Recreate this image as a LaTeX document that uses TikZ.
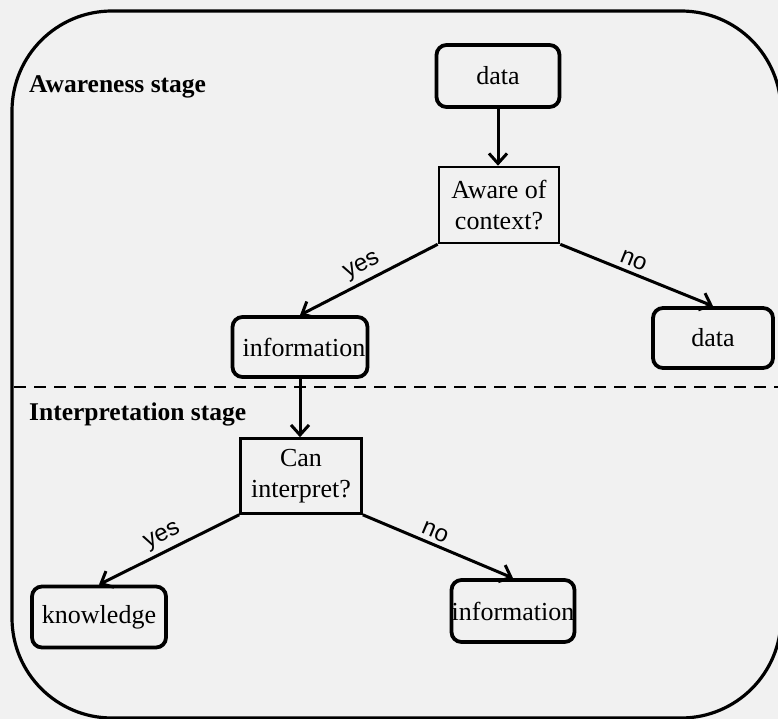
\documentclass[tikz,border=0pt]{standalone}
\usepackage{fontspec}
\setmainfont{Liberation Serif}
\newfontfamily\labelfont{Liberation Sans}
\usetikzlibrary{arrows.meta}

\definecolor{paper}{RGB}{241,241,241}

\begin{document}
\begin{tikzpicture}[x=1pt,y=-1pt,
  every node/.style={font=\fontsize{26}{31}\selectfont},
  state/.style={draw, line width=3.8pt, rounded corners=10pt, minimum height=60pt, inner sep=0pt},
  test/.style={draw, line width=2.6pt, minimum width=120pt, minimum height=76pt, align=center, inner sep=0pt},
  flow/.style={line width=3pt, -{Straight Barb[length=10pt,width=18pt]}},
  branch/.style={font=\labelfont\fontsize{24}{26}\selectfont, sloped, above, inner sep=4pt},
  stage/.style={font=\bfseries\fontsize{25.5}{30}\selectfont, anchor=base west, inner sep=0pt}
]
% page and outer frame
\fill[paper] (0,0) rectangle (778,719);
\useasboundingbox (0,0) rectangle (778,719);
\draw[line width=3.2pt, rounded corners=100pt] (12,11) rectangle (781,718);

% stage titles and separator
\node[stage] (awst) at (29,93) {Awareness stage};
\draw[line width=2.2pt, dash pattern=on 12pt off 8pt] (14,387) -- (778,387);
\node[stage] (inst) at (29,420) {Interpretation stage};

% awareness stage
\node[state, minimum width=123pt, minimum height=62pt] (src) at (498,76) {data};
\node[test] (aware) at (499,205) {Aware of\\context?};
\node[state, minimum width=135pt] (info) at (300,347) {\hspace*{8pt}information};
\node[state, minimum width=120pt] (drop) at (713,338) {data};

% interpretation stage
\node[test, minimum width=121pt, minimum height=75pt] (interp) at (301,476) {Can\\interpret?};
\node[state, minimum width=134pt, minimum height=61pt] (know) at (99,617) {knowledge};
\node[state, minimum width=123pt, minimum height=62pt] (info2) at (513,611) {information};

% connectors
\draw[flow] (src.south) -- (src.south |- aware.north);
\draw[flow] (aware.south west) -- node[branch] {yes} (info.north);
\draw[flow] (aware.south east) -- node[branch, pos=0.45] {no} (drop.north);
\draw[flow] (info.south) -- (info.south |- interp.north);
\draw[flow] (interp.south west) -- node[branch] {yes} (know.north);
\draw[flow] (interp.south east) -- node[branch, pos=0.45] {no} (info2.north);
\end{tikzpicture}
\end{document}
